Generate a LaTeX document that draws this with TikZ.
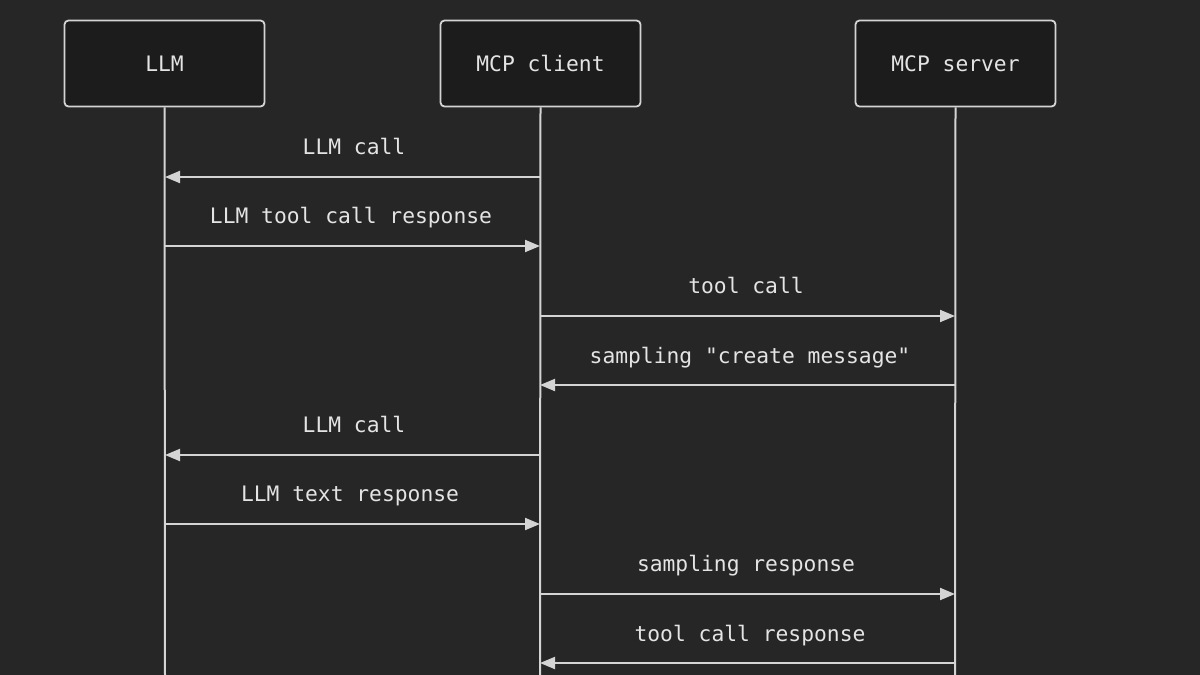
\documentclass[tikz,border=0pt]{standalone}
\usepackage{fontspec}
\setmonofont{DejaVu Sans Mono}
\usetikzlibrary{arrows.meta}
\definecolor{bg}{HTML}{262626}
\definecolor{boxfill}{HTML}{1C1C1C}
\definecolor{ln}{HTML}{D4D4D4}
\definecolor{txt}{HTML}{E4E4E4}
\begin{document}
\begin{tikzpicture}[x=1pt,y=-1pt,
  actor/.style={draw=ln,line width=1.8pt,fill=boxfill,rounded corners=4pt,minimum width=200pt,minimum height=86pt,inner sep=0pt,text=txt,font=\ttfamily\fontsize{21.3}{25}\selectfont},
  life/.style={draw=ln,line width=2pt},
  msg/.style={draw=ln,line width=2pt,-{Triangle[length=15pt,width=12pt]}},
  lbl/.style={text=txt,font=\ttfamily\fontsize{21.3}{25}\selectfont,inner sep=0pt,anchor=base}]
\fill[bg] (0,0) rectangle (1200,675);
\useasboundingbox (0,0) rectangle (1200,675);
\node[actor] (llm) at (164.5,63.5) {LLM};
\node[actor] (cli) at (540.5,63.5) {MCP client};
\node[actor] (srv) at (955.5,63.5) {MCP server};
\coordinate (llmEnd) at (165,676);
\coordinate (cliEnd) at (540,676);
\coordinate (srvEnd) at (955,676);
\draw[life] (llm.south) -- (llmEnd);
\draw[life] (cli.south) -- (cliEnd);
\draw[life] (srv.south) -- (srvEnd);
% row coordinates
\foreach \n/\y in {1/177,2/246,3/316,4/385,5/455,6/524,7/594,8/663}{
  \coordinate (L\n) at (165,\y);
  \coordinate (C\n) at (540,\y);
  \coordinate (S\n) at (955,\y);
}
\draw[msg] (C1) -- (L1);
\draw[msg] (L2) -- (C2);
\draw[msg] (C3) -- (S3);
\draw[msg] (S4) -- (C4);
\draw[msg] (C5) -- (L5);
\draw[msg] (L6) -- (C6);
\draw[msg] (C7) -- (S7);
\draw[msg] (S8) -- (C8);
\node[lbl] (t1) at (354,154) {LLM call};
\node[lbl] (t2) at (351,223) {LLM tool call response};
\node[lbl] (t3) at (746,293) {tool call};
\node[lbl] (t4) at (750,363) {sampling "create message"};
\node[lbl] (t5) at (354,432) {LLM call};
\node[lbl] (t6) at (350,501) {LLM text response};
\node[lbl] (t7) at (746,571) {sampling response};
\node[lbl] (t8) at (750,641) {tool call response};
\end{tikzpicture}
\end{document}
